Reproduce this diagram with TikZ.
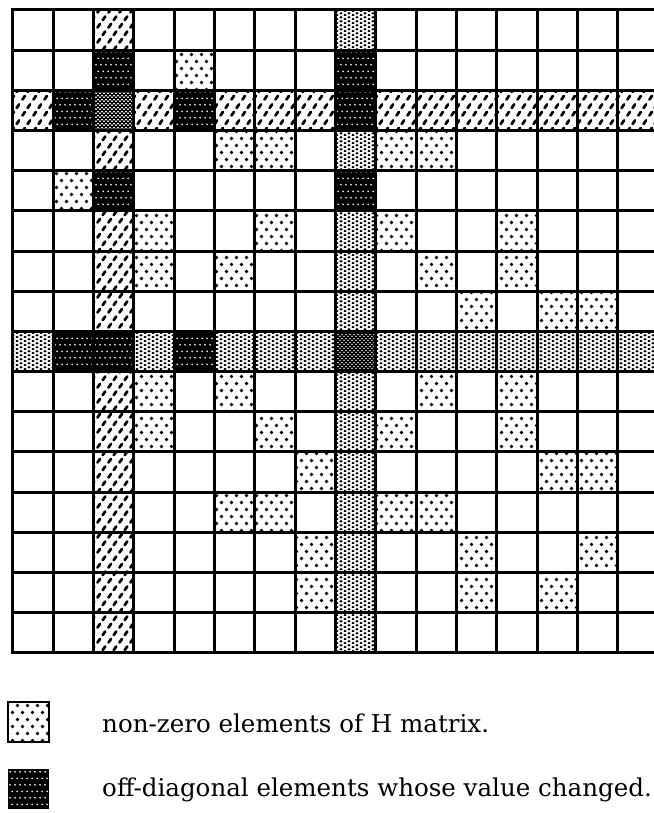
\documentclass[tikz,border=0pt]{standalone}
\usepackage{fontspec}
\setmainfont{DejaVu Serif}
\usetikzlibrary{patterns}

% fill patterns for the cells
\pgfdeclarepatternformonly{hatchdash}{\pgfpointorigin}{\pgfpoint{8pt}{11.6pt}}{\pgfpoint{8pt}{11.6pt}}{
  \pgfsetlinewidth{2.1pt}\pgfsetroundcap
  \pgfpathmoveto{\pgfpoint{1.1pt}{1.1pt}}\pgfpathlineto{\pgfpoint{3.04pt}{3.9pt}}
  \pgfpathmoveto{\pgfpoint{5.1pt}{6.9pt}}\pgfpathlineto{\pgfpoint{7.04pt}{9.7pt}}
  \pgfusepath{stroke}}
\pgfdeclarepatternformonly{sparsedots}{\pgfpointorigin}{\pgfpoint{7.5pt}{10.5pt}}{\pgfpoint{7.5pt}{10.5pt}}{
  \pgfpathcircle{\pgfpoint{1.875pt}{2.625pt}}{1.4pt}
  \pgfpathcircle{\pgfpoint{5.625pt}{7.875pt}}{1.4pt}
  \pgfusepath{fill}}
\pgfdeclarepatternformonly{densedots}{\pgfpointorigin}{\pgfpoint{6pt}{3.2pt}}{\pgfpoint{6pt}{3.2pt}}{
  \pgfpathcircle{\pgfpoint{1.5pt}{0.8pt}}{1.2pt}
  \pgfpathcircle{\pgfpoint{4.5pt}{2.4pt}}{1.2pt}
  \pgfusepath{fill}}
\pgfdeclarepatternformonly{whitedots}{\pgfpointorigin}{\pgfpoint{3.4pt}{10pt}}{\pgfpoint{3.4pt}{10pt}}{
  \pgfpathcircle{\pgfpoint{0.85pt}{2.5pt}}{0.75pt}
  \pgfpathcircle{\pgfpoint{2.55pt}{7.5pt}}{0.75pt}
  \pgfusepath{fill}}
\pgfdeclarepatternformonly{finewhite}{\pgfpointorigin}{\pgfpoint{3pt}{2.6pt}}{\pgfpoint{3pt}{2.6pt}}{
  \pgfpathcircle{\pgfpoint{0.75pt}{0.65pt}}{0.8pt}
  \pgfpathcircle{\pgfpoint{2.25pt}{1.95pt}}{0.8pt}
  \pgfusepath{fill}}
\pgfdeclarepatternformonly{darkfine}{\pgfpointorigin}{\pgfpoint{3pt}{2.6pt}}{\pgfpoint{3pt}{2.6pt}}{
  \pgfpathcircle{\pgfpoint{0.75pt}{0.65pt}}{0.6pt}
  \pgfpathcircle{\pgfpoint{2.25pt}{1.95pt}}{0.6pt}
  \pgfusepath{fill}}

\begin{document}
\begin{tikzpicture}[x=30.26pt,y=-30.13pt,
  hatchcell/.style={pattern=hatchdash},
  densecell/.style={pattern=densedots},
  nzcell/.style={pattern=sparsedots},
  chgcell/.style={fill=black,postaction={pattern=whitedots,pattern color=white}},
  diagH/.style={fill=black,postaction={pattern=finewhite,pattern color=white}},
  diagD/.style={fill=black,postaction={pattern=darkfine,pattern color=white}},
  gridline/.style={line width=2.25pt,line cap=rect},
  keybox/.style={minimum width=30.6pt,minimum height=30.1pt,inner sep=0pt},
  keytext/.style={anchor=base west,inner sep=0pt,font=\fontsize{18.4}{21}\selectfont}]
\clip (-0.3147,-0.2489) rectangle (15.893,19.990);
% hatched row and column
\path[hatchcell] (0,2) rectangle ++(1,1) (3,2) rectangle ++(1,1) (5,2) rectangle ++(3,1)
  (9,2) rectangle ++(7,1);
\path[hatchcell] (2,0) rectangle ++(1,1) (2,3) rectangle ++(1,1) (2,5) rectangle ++(1,3)
  (2,9) rectangle ++(1,7);
% dotted row and column
\path[densecell] (0,8) rectangle ++(1,1) (3,8) rectangle ++(1,1) (5,8) rectangle ++(3,1)
  (9,8) rectangle ++(7,1);
\path[densecell] (8,0) rectangle ++(1,1) (8,3) rectangle ++(1,1) (8,5) rectangle ++(1,3)
  (8,9) rectangle ++(1,7);
% crossings
\path[diagH] (2,2) rectangle ++(1,1);
\path[diagD] (8,8) rectangle ++(1,1);
% changed elements
\path[chgcell] (2,1) rectangle ++(1,1) (8,1) rectangle ++(1,1);
\path[chgcell] (1,2) rectangle ++(1,1) (4,2) rectangle ++(1,1) (8,2) rectangle ++(1,1);
\path[chgcell] (2,4) rectangle ++(1,1) (8,4) rectangle ++(1,1);
\path[chgcell] (1,8) rectangle ++(1,1) (2,8) rectangle ++(1,1) (4,8) rectangle ++(1,1);
% non-zero elements
\path[nzcell] (4,1) rectangle ++(1,1);
\path[nzcell] (5,3) rectangle ++(1,1) (6,3) rectangle ++(1,1) (9,3) rectangle ++(1,1) (10,3) rectangle ++(1,1);
\path[nzcell] (1,4) rectangle ++(1,1);
\path[nzcell] (3,5) rectangle ++(1,1) (6,5) rectangle ++(1,1) (9,5) rectangle ++(1,1) (12,5) rectangle ++(1,1);
\path[nzcell] (3,6) rectangle ++(1,1) (5,6) rectangle ++(1,1) (10,6) rectangle ++(1,1) (12,6) rectangle ++(1,1);
\path[nzcell] (11,7) rectangle ++(1,1) (13,7) rectangle ++(1,1) (14,7) rectangle ++(1,1);
\path[nzcell] (3,9) rectangle ++(1,1) (5,9) rectangle ++(1,1) (10,9) rectangle ++(1,1) (12,9) rectangle ++(1,1);
\path[nzcell] (3,10) rectangle ++(1,1) (6,10) rectangle ++(1,1) (9,10) rectangle ++(1,1) (12,10) rectangle ++(1,1);
\path[nzcell] (7,11) rectangle ++(1,1) (13,11) rectangle ++(1,1) (14,11) rectangle ++(1,1);
\path[nzcell] (5,12) rectangle ++(1,1) (6,12) rectangle ++(1,1) (9,12) rectangle ++(1,1) (10,12) rectangle ++(1,1);
\path[nzcell] (7,13) rectangle ++(1,1) (11,13) rectangle ++(1,1) (14,13) rectangle ++(1,1);
\path[nzcell] (7,14) rectangle ++(1,1) (11,14) rectangle ++(1,1) (13,14) rectangle ++(1,1);
% grid
\draw[gridline] (0,1) -- (16,1);
\draw[gridline] (0,2) -- (16,2);
\draw[gridline] (0,3) -- (16,3);
\draw[gridline] (0,4) -- (16,4);
\draw[gridline] (0,5) -- (16,5);
\draw[gridline] (0,6) -- (16,6);
\draw[gridline] (0,7) -- (16,7);
\draw[gridline] (0,8) -- (16,8);
\draw[gridline] (0,9) -- (16,9);
\draw[gridline] (0,10) -- (16,10);
\draw[gridline] (0,11) -- (16,11);
\draw[gridline] (0,12) -- (16,12);
\draw[gridline] (0,13) -- (16,13);
\draw[gridline] (0,14) -- (16,14);
\draw[gridline] (0,15) -- (16,15);
\draw[gridline] (1,0) -- (1,16);
\draw[gridline] (2,0) -- (2,16);
\draw[gridline] (3,0) -- (3,16);
\draw[gridline] (4,0) -- (4,16);
\draw[gridline] (5,0) -- (5,16);
\draw[gridline] (6,0) -- (6,16);
\draw[gridline] (7,0) -- (7,16);
\draw[gridline] (8,0) -- (8,16);
\draw[gridline] (9,0) -- (9,16);
\draw[gridline] (10,0) -- (10,16);
\draw[gridline] (11,0) -- (11,16);
\draw[gridline] (12,0) -- (12,16);
\draw[gridline] (13,0) -- (13,16);
\draw[gridline] (14,0) -- (14,16);
\draw[gridline] (15,0) -- (15,16);
\draw[gridline] (0,0) rectangle (16,16);
% key
\node[keybox,draw,line width=2pt,pattern=sparsedots] (keynz) at (0.3916,17.725) {};
\node[keybox,fill=black,postaction={pattern=whitedots,pattern color=white}] (keychg) at (0.3916,19.392) {};
\node[keytext] (txtnz) at (2.213,17.998) {non-zero elements of H matrix.};
\node[keytext] (txtchg) at (2.213,19.567) {off-diagonal elements whose value changed.};
\end{tikzpicture}
\end{document}
